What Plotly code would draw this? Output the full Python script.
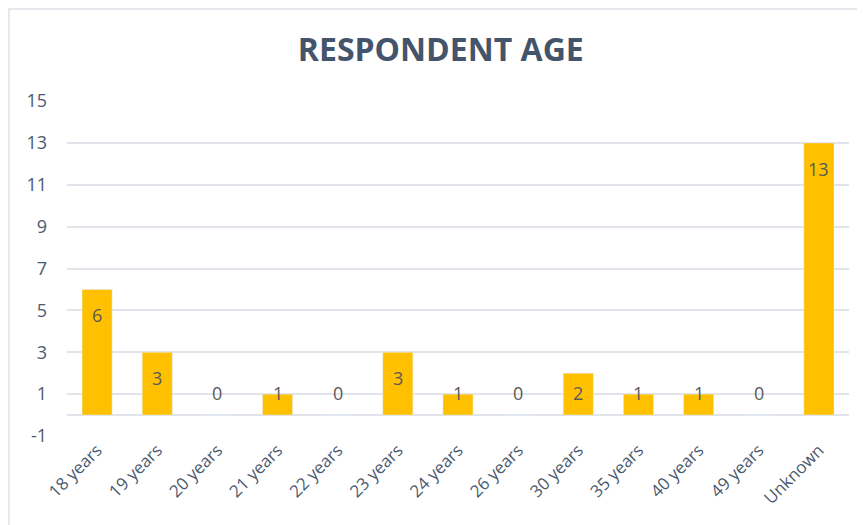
import plotly.graph_objects as go

categories = ["18 years", "19 years", "20 years", "21 years", "22 years", "23 years",
              "24 years", "26 years", "30 years", "35 years", "40 years", "49 years", "Unknown"]
counts = [6, 3, 0, 1, 0, 3, 1, 0, 2, 1, 1, 0, 13]
y_ticks = [-1, 1, 3, 5, 7, 9, 11, 13, 15]
y_tick_labels = ["-1", "1", "3", "5", "7", "9", "11", "13", "15"]

bar_color = "#FFC000"
text_color = "#4B5A70"
label_color = "#5A5A5A"
grid_color = "#E1E4EA"

fig = go.Figure(go.Bar(
    x=categories,
    y=counts,
    marker_color=bar_color,
    hoverinfo="x+y",
))

# value labels like Excel's "inside end": a bit under the bar top,
# but never lower than just above the baseline
for cat, v in zip(categories, counts):
    fig.add_annotation(x=cat, y=max(v - 1.24, 1.05), text=str(v), showarrow=False,
                       xanchor="center", yanchor="middle",
                       font=dict(size=18, color=label_color))

fig.update_layout(
    width=857,
    height=517,
    paper_bgcolor="white",
    plot_bgcolor="white",
    font=dict(family="Open Sans, sans-serif", color=text_color, size=17),
    title=dict(text="<b>RESPONDENT AGE</b>", x=0.505, xanchor="center", y=0.919, yanchor="middle",
               font=dict(size=32, color="#44546A")),
    margin=dict(l=59, r=16, t=93, b=89),
    bargap=0.5,
    showlegend=False,
)

fig.update_yaxes(
    range=[-1, 15],
    tickvals=y_ticks,
    ticktext=y_tick_labels,
    showgrid=True,
    gridcolor=grid_color,
    gridwidth=1.5,
    zeroline=True,
    zerolinecolor=grid_color,
    zerolinewidth=1.5,
    tickfont=dict(size=18, color=text_color),
    ticklabelstandoff=19,
)
fig.update_xaxes(
    tickangle=-45,
    tickfont=dict(size=17, color=text_color),
    showline=False,
)

# light frame around the chart area
fig.add_shape(type="rect", xref="paper", yref="paper",
              x0=-0.0742, x1=1.05, y0=-0.4, y1=1.2746,
              line=dict(color="#DDE1E7", width=1.5), layer="below")

fig.write_html("out.html")
